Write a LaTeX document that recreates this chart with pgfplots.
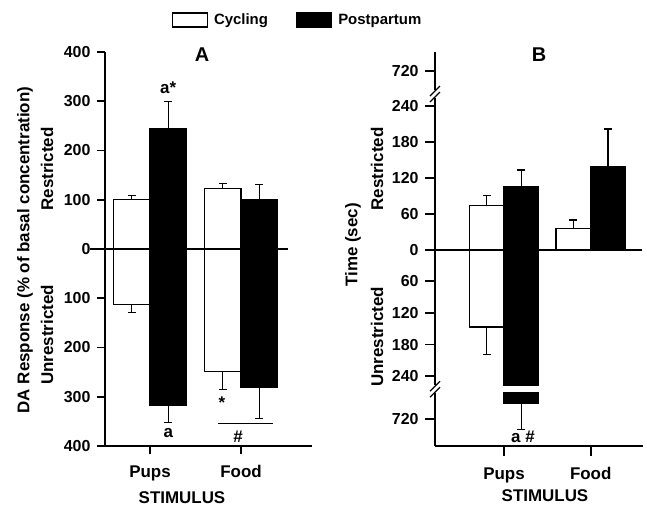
\documentclass[border=0pt]{standalone}
\usepackage{fontspec}
\setmainfont{Liberation Sans}
\usepackage{pgfplots}
\pgfplotsset{compat=1.18}

\newcommand\fs[1]{\fontsize{#1}{#1}\selectfont\bfseries}

\pgfplotsset{
  common/.style={
    scale only axis, clip=false,
    axis x line*=bottom, axis y line*=left,
    axis line style={line width=2bp},
    tick style={line width=1.6bp, black},
    tick align=outside, major tick length=8bp,
    yticklabel style={font=\fs{16}, xshift=-3bp},
    xticklabel style={font=\fs{17}, yshift=-8bp},
    xtick={0,1}, xticklabels={Pups,Food},
  },
  barC/.style={ybar, bar width=0.4, bar shift=0pt, fill=white, draw=black, line width=1.3bp},
  barP/.style={ybar, bar width=0.4, bar shift=0pt, fill=black, draw=black, line width=1.3bp},
  eb/.style={error bars/.cd, y dir=#1, y explicit,
    error bar style={line width=1.3bp, black},
    error mark options={rotate=90, line width=1.3bp, mark size=4bp, black}},
  ebline/.style={black, line width=1.3bp, mark=-, mark size=4bp, mark indices={2},
    mark options={solid, line width=1.3bp}, forget plot},
  boxleg/.style={legend image code/.code={\draw[##1, line width=1.3bp] (0bp,-7bp) rectangle (35bp,7bp); \path (39bp,0bp);}},
}

\begin{document}
\begin{tikzpicture}
\path[use as bounding box] (0,0) rectangle (647bp,509bp);

% ---------------- Panel A ----------------
\begin{axis}[common, at={(105bp,63bp)}, anchor=south west,
  width=207bp, height=394bp,
  xmin=-0.495, xmax=1.78, ymin=-400, ymax=400,
  ytick={-400,-300,-200,-100,0,100,200,300,400},
  yticklabels={400,300,200,100,0,100,200,300,400},
  legend columns=2,
  legend style={at={(0.93,1.081)}, anchor=center, draw=none, fill=none,
    font=\fs{15}, /tikz/every even column/.append style={column sep=26bp}},
]
\addplot[barC, boxleg, eb=plus] coordinates {(-0.2,101) +- (0,7) (0.8,123) +- (0,10)};
\addlegendentry{Cycling}
\addplot[barP, boxleg, eb=plus] coordinates {(0.2,245) +- (0,55) (1.2,101) +- (0,30)};
\addlegendentry{Postpartum}
\addplot[barC, forget plot, eb=minus] coordinates {(-0.2,-112) +- (0,17) (0.8,-249) +- (0,36)};
\addplot[barP, forget plot, eb=minus] coordinates {(0.2,-318) +- (0,34) (1.2,-280) +- (0,64)};
\draw[line width=2bp] (axis cs:-0.66,0) -- (axis cs:1.516,0);
\node[font=\fs{17}] at (axis cs:0.2,327) {a*};
\node[font=\fs{17}] at (axis cs:0.2,-374) {a};
\node[font=\fs{17}] at (axis cs:0.79,-312) {*};
\draw[line width=1.3bp] (axis cs:0.747,-354) -- (axis cs:1.352,-354);
\node[font=\fs{17}] at (axis cs:0.967,-382) {\#};
\end{axis}

% ---------------- Panel B ----------------
\begin{axis}[common, at={(435bp,63bp)}, anchor=south west,
  width=208bp, height=394bp, major tick length=10bp,
  xmin=-0.796, xmax=1.603, ymin=-770.7, ymax=751.7,
  y coord trafo/.code={\pgfmathparse{ifthenelse(#1>=681.3, 178.6+0.597*(#1-720),
      ifthenelse(#1>=260.5, 155.5,
      ifthenelse(#1>=0, 0.597*#1,
      ifthenelse(#1>=-264.7, 0.527*#1,
      ifthenelse(#1>=-663.1, -139.5, -169.5+0.527*(#1+720))))))}},
  ytick={-720,-240,-180,-120,-60,0,60,120,180,240,720},
  yticklabels={720,240,180,120,60,0,60,120,180,240,720},
]
\addplot[barC] coordinates {(-0.2,73.4) (0.8,35.5)};
\addplot[barP] coordinates {(0.2,105.2) (1.2,138.7)};
\addplot[barC] coordinates {(-0.2,-146.5)};
\addplot[barP] coordinates {(0.2,-689)};
% error bars (mean to mean+SEM)
\addplot[ebline] coordinates {(-0.2,73.4) (-0.2,90.1)};
\addplot[ebline] coordinates {(0.8,35.5) (0.8,49.4)};
\addplot[ebline] coordinates {(0.2,105.2) (0.2,133.2)};
\addplot[ebline] coordinates {(1.2,138.7) (1.2,201.8)};
\addplot[ebline] coordinates {(-0.2,-146.5) (-0.2,-198.9)};
\addplot[ebline] coordinates {(0.2,-689) (0.2,-739.5)};
\fill[white] (axis cs:-0.02,-259) rectangle (axis cs:0.42,-668);
\draw[line width=2bp] (axis cs:-0.911,0) -- (axis cs:1.592,0);
\node[font=\fs{17}] at (axis cs:0.219,-753) {a \#};
% axis breaks
\fill[white] ([xshift=-4bp,yshift=-4bp]axis cs:-0.796,500) rectangle ([xshift=4bp,yshift=4bp]axis cs:-0.796,500);
\draw[line width=1.2bp] ([xshift=-5bp,yshift=-8bp]axis cs:-0.796,500) -- ++(10bp,10bp);
\draw[line width=1.2bp] ([xshift=-5bp,yshift=-2bp]axis cs:-0.796,500) -- ++(10bp,10bp);
\fill[white] ([xshift=-4bp,yshift=-4bp]axis cs:-0.796,-450) rectangle ([xshift=4bp,yshift=4bp]axis cs:-0.796,-450);
\draw[line width=1.2bp] ([xshift=-5bp,yshift=-8bp]axis cs:-0.796,-450) -- ++(10bp,10bp);
\draw[line width=1.2bp] ([xshift=-5bp,yshift=-2bp]axis cs:-0.796,-450) -- ++(10bp,10bp);
\end{axis}

% ---------------- labels ----------------
\node[font=\fs{20}] at (202bp,454.5bp) {A};
\node[font=\fs{20}] at (539bp,454.5bp) {B};
\node[rotate=90, font=\fs{17}] at (25bp,259bp) {DA Response (\% of basal concentration)};
\node[rotate=90, font=\fs{17}] at (47bp,340bp) {Restricted};
\node[rotate=90, font=\fs{17}] at (47bp,174bp) {Unrestricted};
\node[rotate=90, font=\fs{17}] at (353bp,264bp) {Time (sec)};
\node[rotate=90, font=\fs{17}] at (377bp,340bp) {Restricted};
\node[rotate=90, font=\fs{17}] at (377bp,172bp) {Unrestricted};
\node[font=\fs{17}] at (182bp,11bp) {STIMULUS};
\node[font=\fs{17}] at (545bp,13bp) {STIMULUS};
\end{tikzpicture}
\end{document}
